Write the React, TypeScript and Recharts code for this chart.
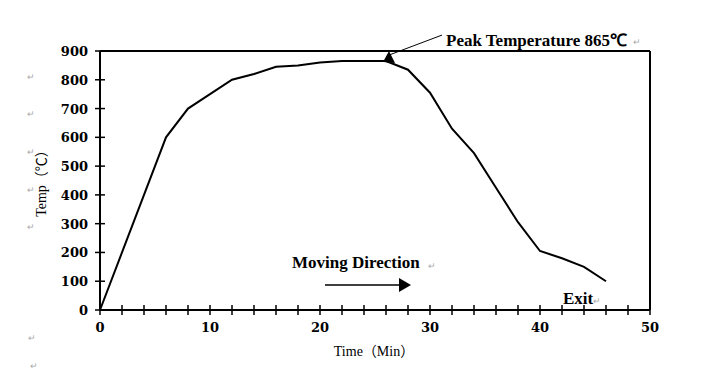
import { LineChart, Line, XAxis, YAxis, ReferenceLine, ReferenceDot } from 'recharts'

// furnace temperature profile
const timeMin = [0, 2, 4, 6, 8, 10, 12, 14, 16, 18, 20, 22, 24, 26, 28, 30, 32, 34, 36, 38, 40, 42, 44, 46]
const tempC = [0, 200, 400, 600, 700, 750, 800, 820, 845, 850, 860, 865, 865, 865, 835, 755, 630, 545, 425, 305, 205, 180, 150, 100]

const xTicks = [0, 2, 4, 6, 8, 10, 12, 14, 16, 18, 20, 22, 24, 26, 28, 30, 32, 34, 36, 38, 40, 42, 44, 46, 48, 50]
const xLabels = [0, 10, 20, 30, 40, 50]
const yTicks = [0, 100, 200, 300, 400, 500, 600, 700, 800, 900]

const peakTime = 26
const peakTemp = 865

const data = timeMin.map((t, i) => ({ time: t, temp: tempC[i] }))

const tickFont = '"DejaVu Serif", serif'
const labelFont = '"Liberation Serif", "Times New Roman", serif'
const axisTitleFont = '"Liberation Serif", "Noto Sans CJK SC", serif'

function XTick(props: any) {
  const { x, y, payload } = props
  const showLabel = xLabels.includes(payload.value)
  return (
    <g>
      <line x1={x} x2={x} y1={y - 5} y2={y + 5} stroke="#000" strokeWidth={1.5} />
      {showLabel && (
        <text x={x} y={y + 22} textAnchor="middle" fontFamily={tickFont} fontWeight="bold" fontSize={13} fill="#000">
          {payload.value}
        </text>
      )}
    </g>
  )
}

function YTick(props: any) {
  const { x, y, payload } = props
  return (
    <g>
      <line x1={x - 5} x2={x + 5} y1={y} y2={y} stroke="#000" strokeWidth={1.5} />
      <text x={x - 12} y={y + 5} textAnchor="end" fontFamily={tickFont} fontWeight="bold" fontSize={13} fill="#000">
        {payload.value}
      </text>
    </g>
  )
}

function PeakMarker(props: any) {
  const { cx, cy } = props
  return (
    <g>
      <line x1={cx + 3} y1={cy - 6} x2={cx + 56} y2={cy - 26} stroke="#000" strokeWidth={1} />
      <polygon points={`${cx + 3},${cy - 10} ${cx - 3},${cy + 1} ${cx + 9},${cy + 2}`} fill="#000" />
    </g>
  )
}

const returnMarks = [
  [27, 80], [27, 117], [27, 155], [27, 193], [27, 230], [28, 341], [30, 369],
]

export default function App() {
  return (
    <div style={{ position: 'absolute', left: 0, top: 0, width: 716, height: 374, background: '#fff' }}>
      <LineChart width={716} height={374} data={data} margin={{ top: 51, right: 66, bottom: 34, left: 40 }}>
        <XAxis
          dataKey="time"
          type="number"
          domain={[0, 50]}
          ticks={xTicks}
          interval={0}
          tickSize={0}
          tickMargin={0}
          tickLine={false}
          tick={<XTick />}
          axisLine={{ stroke: '#000', strokeWidth: 2 }}
          height={30}
        />
        <YAxis
          type="number"
          domain={[0, 900]}
          ticks={yTicks}
          interval={0}
          tickSize={0}
          tickMargin={0}
          tickLine={false}
          tick={<YTick />}
          axisLine={{ stroke: '#000', strokeWidth: 2 }}
          width={60}
        />
        <ReferenceLine y={900} stroke="#000" strokeWidth={2} />
        <ReferenceLine x={50} stroke="#000" strokeWidth={2} />
        <Line
          dataKey="temp"
          type="linear"
          stroke="#000"
          strokeWidth={2}
          dot={false}
          isAnimationActive={false}
        />
        <ReferenceDot x={peakTime} y={peakTemp} shape={<PeakMarker />} />
      </LineChart>
      <svg width={716} height={374} style={{ position: 'absolute', left: 0, top: 0, pointerEvents: 'none' }}>
        <text x={446} y={46} fontFamily={labelFont} fontWeight="bold" fontSize={17} fill="#000">
          Peak Temperature {peakTemp}℃
        </text>
        <text x={633} y={45} fontFamily={labelFont} fontSize={9} fill="#aaa">↵</text>
        <text x={292} y={268} fontFamily={labelFont} fontWeight="bold" fontSize={17} fill="#000">
          Moving Direction
        </text>
        <text x={428} y={269} fontFamily={labelFont} fontSize={9} fill="#aaa">↵</text>
        <line x1={325} y1={285} x2={400} y2={285} stroke="#000" strokeWidth={1.5} />
        <polygon points="399,278 411,285 399,292" fill="#000" />
        <text x={563} y={304} fontFamily={labelFont} fontWeight="bold" fontSize={17} fill="#000">
          Exit
        </text>
        <text x={593} y={304} fontFamily={labelFont} fontSize={9} fill="#aaa">↵</text>
        <text x={374} y={356} textAnchor="middle" fontFamily={axisTitleFont} fontSize={14} fill="#000">
          Time（Min）
        </text>
        <text
          x={46}
          y={180}
          textAnchor="middle"
          transform="rotate(-90 46 180)"
          fontFamily={axisTitleFont}
          fontSize={14}
          fill="#000"
        >
          Temp（℃）
        </text>
        {returnMarks.map(([x, y], i) => (
          <text key={i} x={x} y={y} fontFamily={labelFont} fontSize={9} fill="#aaa">↵</text>
        ))}
      </svg>
    </div>
  )
}
